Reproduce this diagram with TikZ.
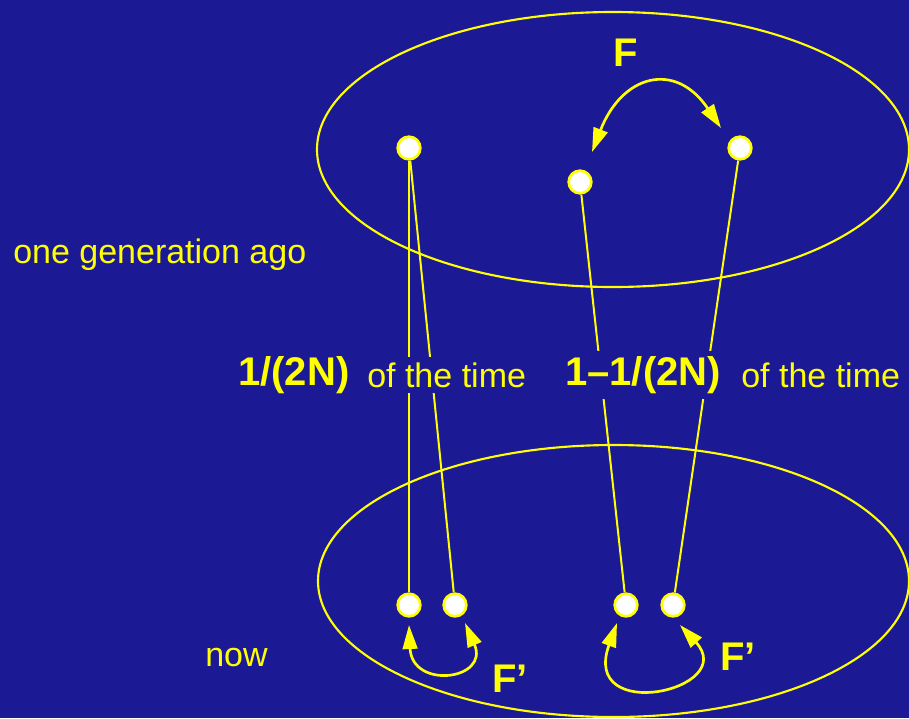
\documentclass[tikz,border=0pt]{standalone}
\usepackage{fontspec}
\setmainfont{Liberation Sans}
\usepackage{tikz}
\usetikzlibrary{arrows.meta,calc}

\definecolor{slidebg}{RGB}{27,25,148}
\definecolor{slideyel}{RGB}{255,255,0}

\begin{document}
\begin{tikzpicture}[
x=0.75pt,y=-0.75pt,
gene/.style={circle,draw=slideyel,fill=white,line width=2pt,minimum size=17pt,inner sep=0pt},
link/.style={draw=slideyel,line width=1.5pt},
pool/.style={draw=slideyel,line width=1.6pt},
swap/.style={draw=slideyel,line width=2pt,{Triangle[length=18pt,width=11pt]}-{Triangle[length=18pt,width=11pt]}},
txt/.style={text=slideyel,font=\fontsize{25.5}{30}\selectfont,anchor=base west,inner xsep=0pt,inner ysep=4pt,fill=slidebg},
big/.style={text=slideyel,font=\fontsize{30}{36}\selectfont\bfseries,anchor=base west,inner xsep=0pt,inner ysep=4pt,fill=slidebg}
]
\fill[slidebg] (0,0) rectangle (909,718);
\useasboundingbox (0,0) rectangle (909,718);

% gene pools
\draw[pool] (613,149.5) ellipse [x radius=296, y radius=137.5];
\draw[pool] (613.5,581) ellipse [x radius=295.5, y radius=136];

% genes
\node[gene] (t1) at (409,148) {};
\node[gene] (t2) at (580,182) {};
\node[gene] (t3) at (740,148) {};
\node[gene] (b1) at (409,605) {};
\node[gene] (b2) at (455,605) {};
\node[gene] (b3) at (626,605) {};
\node[gene] (b4) at (673,605) {};

% descent
\draw[link] (t1) -- (b1);
\draw[link] (t1) -- (b2);
\draw[link] (t2) -- (b3);
\draw[link] (t3) -- (b4);

% identity arrows
\coordinate (fa) at ($(t2)+(12,-30)$);
\coordinate (fb) at ($(t3)+(-19,-20)$);
\coordinate (la) at ($(b1)+(0,20)$);
\coordinate (lb) at ($(b2)+(10,18)$);
\coordinate (ra) at ($(b3)+(-9,18)$);
\coordinate (rb) at ($(b4)+(7,20)$);
\draw[swap] (fa) .. controls (622,75) and (675,60) .. (fb);
\draw[swap] (la) .. controls (412,690) and (490,680) .. (lb);
\draw[swap] (ra) .. controls (580,725) and (740,690) .. (rb);

% labels
\node[big,anchor=base] (ftop) at (626,66) {F};
\node[txt] (ago) at (13,263) {one generation ago};
\node[txt] (now) at (205,666) {now};
\node[big] (p1) at (238,385) {1/(2N)};
\node[txt] (o1) at (367,387) {of the time};
\node[big] (p2) at (565,385) {1--1/(2N)};
\node[txt] (o2) at (741,387) {of the time};
\node[big] (fl) at (492,692) {F’};
\node[big] (fr) at (720,670) {F’};
\end{tikzpicture}
\end{document}
